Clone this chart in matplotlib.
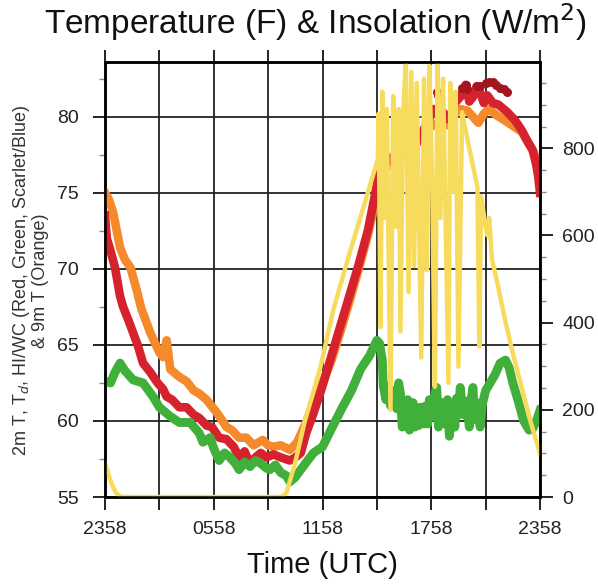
import matplotlib
matplotlib.use('Agg')
import matplotlib.pyplot as plt
from matplotlib.ticker import MultipleLocator, FixedLocator
import numpy as np

plt.rcParams['font.family'] = ['Liberation Sans', 'DejaVu Sans']

# time axis: hours after 2358 UTC
tick_hours = [0, 3, 6, 9, 12, 15, 18, 21, 24]
tick_labels = ['2358', '', '0558', '', '1158', '', '1758', '', '2358']

# 2m temperature (red)
t2m_hours = [0, 0.1, 0.3, 0.55, 0.83, 1.0, 1.3, 1.55, 1.8, 2.1, 2.5, 2.9, 3.2, 3.4,
             3.7, 4.1, 4.5, 4.9, 5.2, 5.6, 5.9, 6.3, 6.7, 7.1, 7.4, 7.7, 8.0, 8.3,
             8.6, 8.9, 9.3, 9.7, 10.2, 10.5, 10.8, 11.1, 11.5, 12.0, 12.5, 13.0,
             13.5, 14.0, 14.5, 15.0, 15.2, 15.55, 15.9, 16.3, 16.8, 17.2, 17.5,
             17.8, 18.1, 18.5, 19.0, 19.3, 19.6, 19.9, 20.1, 20.3, 20.5, 20.7,
             20.9, 21.1, 21.4, 21.7, 22.0, 22.2, 22.6, 23.0, 23.3, 23.6, 23.8,
             23.9, 24.0]
t2m = [73.5, 72.0, 71.2, 70.1, 68.2, 67.5, 66.6, 65.8, 65.0, 63.8, 63.2, 62.5, 62.1,
       61.6, 61.4, 60.9, 60.9, 60.4, 60.2, 59.7, 59.6, 58.9, 58.8, 58.3, 57.6, 58.0,
       57.2, 57.6, 57.9, 57.6, 57.8, 57.6, 57.4, 57.6, 57.9, 59.2, 60.5, 62.3, 64.3,
       66.3, 68.3, 70.3, 72.5, 75.5, 77.0, 77.4, 77.0, 78.3, 79.3, 78.3, 79.0, 79.6,
       80.5, 80.5, 79.8, 80.9, 81.3, 82.1, 81.0, 81.3, 82.0, 81.6, 80.9, 81.4, 80.9,
       80.8, 80.5, 80.3, 79.8, 79.1, 78.4, 77.8, 76.8, 76.1, 75.0]

# 9m temperature (orange)
t9m_hours = [0, 0.2, 0.45, 0.83, 1.1, 1.4, 1.75, 2.0, 2.5, 3.0, 3.2, 3.4, 3.6, 4.1,
             4.5, 4.9, 5.2, 5.6, 6.2, 6.7, 7.0, 7.4, 7.8, 8.2, 8.7, 9.0, 9.3, 9.7,
             10.2, 10.6, 11.1, 11.5, 12.0, 12.5, 13.0, 13.5, 14.0, 14.5, 15.0, 15.3,
             15.6, 16.0, 16.3, 16.6, 17.0, 17.4, 17.8, 18.2, 18.6, 19.0, 19.3, 19.6,
             20.0, 20.3, 20.6, 20.9, 21.2, 21.6, 22.0, 22.5, 23.0, 23.5, 24.0]
t9m = [75.0, 74.6, 73.7, 71.4, 70.6, 70.1, 68.6, 67.4, 65.8, 64.5, 64.2, 65.3, 63.4,
       62.9, 62.6, 62.0, 61.8, 61.4, 60.5, 59.6, 59.4, 58.9, 58.9, 58.4, 58.75, 58.4,
       58.3, 58.4, 58.1, 58.6, 59.9, 61.2, 62.5, 64.0, 65.9, 67.9, 70.0, 72.2, 74.8,
       76.3, 76.8, 77.0, 77.3, 77.6, 77.8, 78.6, 79.2, 79.5, 79.8, 79.4, 80.2, 80.5,
       80.4, 80.0, 79.6, 80.2, 80.5, 80.1, 79.8, 79.4, 79.0, 78.0, 76.8]

# 2m dew point (green)
td_hours = [0, 0.3, 0.55, 0.83, 1.1, 1.55, 2.1, 2.65, 3.0, 3.3, 3.6, 4.1, 4.7, 5.2,
            5.4, 5.8, 6.0, 6.3, 6.6, 6.9, 7.2, 7.4, 7.7, 8.0, 8.3, 8.6, 8.9, 9.1,
            9.4, 9.7, 10.0, 10.2, 10.5, 10.8, 11.5, 12.0, 12.5, 13.1, 13.6, 14.1,
            14.6, 15.0, 15.15, 15.3, 15.35, 15.5, 15.6, 15.75, 15.9, 16.0, 16.1,
            16.2, 16.3, 16.4, 16.5, 16.6, 16.7, 16.8, 16.9, 17.0, 17.1, 17.2, 17.3,
            17.4, 17.5, 17.6, 17.7, 17.8, 17.9, 18.0, 18.1, 18.2, 18.3, 18.4, 18.5,
            18.6, 18.75, 18.9, 19.0, 19.1, 19.2, 19.3, 19.4, 19.5, 19.6, 19.7, 19.8,
            19.95, 20.1, 20.2, 20.3, 20.4, 20.5, 20.6, 20.7, 20.8, 20.9, 21.0, 21.2,
            21.5, 21.8, 22.1, 22.3, 22.5, 22.8, 23.1, 23.4, 23.6, 23.8, 24.0]
td = [62.6, 62.5, 63.2, 63.8, 63.3, 62.7, 62.5, 61.6, 60.9, 60.6, 60.3, 59.9, 59.9,
      59.2, 58.6, 58.9, 58.2, 57.4, 57.9, 57.6, 57.2, 56.8, 57.3, 57.0, 57.4, 57.2,
      56.9, 56.8, 57.1, 56.6, 56.4, 56.0, 56.3, 56.8, 57.9, 58.3, 59.5, 60.9, 62.0,
      63.4, 64.3, 65.3, 65.1, 64.0, 62.3, 61.4, 62.3, 61.0, 62.0, 61.3, 60.8,
      62.5, 61.8, 59.6, 61.2, 60.2, 61.4, 59.4, 60.6, 61.2, 59.6, 60.5, 59.7,
      60.9, 60.3, 59.8, 61.0, 59.8, 61.4, 60.6, 60.3, 61.8, 62.2, 59.6, 61.0,
      61.2, 59.8, 61.4, 59.0, 60.2, 60.7, 59.6, 61.5, 60.4, 62.2, 61.0, 60.4,
      61.3, 59.6, 61.4, 62.2, 60.1, 61.2, 60.4, 59.6, 61.0, 61.5, 62.0, 62.4,
      63.0, 63.8, 64.0, 63.5, 62.5, 61.3, 60.0, 59.4, 59.5, 60.0, 60.7]

# heat index (scarlet dots, only when hot)
hi_hours = [18.3, 18.4, 19.7, 19.9, 20.0, 20.5, 20.7, 21.0, 21.2, 21.4, 21.6, 21.8,
            22.0, 22.2]
hi = [81.6, 81.4, 81.9, 82.1, 81.8, 82.0, 82.0, 82.2, 82.3, 82.3, 82.1, 81.9, 81.8,
      81.6]

# insolation, W/m2 (yellow, right axis)
sw_hours = [0, 0.15, 0.3, 0.45, 0.6, 0.8, 1.0, 9.7, 10.0, 10.5, 11.0, 11.9, 12.6,
            13.5, 14.3, 15.05, 15.1, 15.2, 15.3, 15.45, 15.55, 15.75, 15.9, 16.05,
            16.2, 16.3, 16.45, 16.6, 16.75, 16.9, 17.05, 17.2, 17.45, 17.6, 17.75,
            17.9, 18.05, 18.2, 18.35, 18.5, 18.65, 18.95, 19.05, 19.2, 19.35, 19.5,
            19.7, 20.0, 20.3, 20.55, 20.65, 20.75, 21.0, 21.1, 21.2, 21.35, 21.6,
            22.07, 22.5, 23.0, 23.5, 24.0]
sw = [78, 58, 38, 22, 10, 2, 0, 0, 8, 80, 170, 300, 430, 560, 670, 775, 880, 390,
      930, 640, 890, 200, 920, 620, 890, 380, 880, 1000, 470, 975, 530, 950, 320,
      960, 520, 990, 720, 253, 998, 640, 960, 262, 950, 700, 930, 299, 883, 820,
      760, 710, 345, 690, 620, 600, 640, 545, 500, 407, 330, 250, 170, 100]

fig = plt.figure(figsize=(5.98, 5.87), dpi=100)
ax = fig.add_axes([0.1756, 0.1533, 0.7274, 0.7411])

ax.plot(t9m_hours, t9m, color='#F58A2C', lw=6.2, solid_joinstyle='round', zorder=3)
ax.plot(t2m_hours, t2m, color='#D6222C', lw=6.2, solid_joinstyle='round', zorder=4)
ax.plot(td_hours, td, color='#41B03B', lw=6.4, solid_joinstyle='round', zorder=5)
ax.plot(hi_hours, hi, 'o', color='#A3161F', ms=6.5, mew=0, zorder=6)

ax.set_xlim(0, 24)
ax.set_ylim(55, 83.6)
ax.xaxis.set_major_locator(FixedLocator(tick_hours))
ax.set_xticklabels(tick_labels)
ax.yaxis.set_major_locator(MultipleLocator(5))
ax.yaxis.set_minor_locator(MultipleLocator(2.5))
ax.grid(True, which='major', color='#222222', lw=1.3, zorder=1)
ax.set_axisbelow(True)
ax.tick_params(axis='x', which='major', direction='out', length=9, width=1.4,
               pad=8, labelsize=14, top=True, colors='#222222', labelcolor='#222222')
ax.tick_params(axis='y', which='major', direction='out', length=9, width=1.4,
               pad=10, labelsize=14, colors='#222222', labelcolor='#222222')
ax.tick_params(axis='y', which='minor', direction='out', length=4, width=1.0,
               colors='#888888')
for s in ax.spines.values():
    s.set_linewidth(1.8)

ax2 = ax.twinx()
ax2.plot(sw_hours, sw, color='#F7DB5C', lw=3.2, solid_joinstyle='round')
ax2.set_ylim(0, 998)
ax2.yaxis.set_major_locator(FixedLocator([0, 200, 400, 600, 800]))
ax2.yaxis.set_minor_locator(MultipleLocator(50))
ax2.tick_params(axis='y', which='major', direction='out', length=9, width=1.4,
                pad=7, labelsize=14, colors='#222222', labelcolor='#222222')
ax2.tick_params(axis='y', which='minor', direction='out', length=4, width=1.0,
                colors='#888888')
for s in ax2.spines.values():
    s.set_linewidth(1.8)

fig.text(315 / 598, 1 - 22 / 587, r'Temperature (F) & Insolation (W/m$^2$)',
         ha='center', va='center', fontsize=24, color='#111111')
fig.text(322 / 598, 1 - 565 / 587, 'Time (UTC)', ha='center', va='center',
         fontsize=21, color='#111111')
fig.text(30 / 598, 0.522,
         '2m T, T$_d$, HI/WC (Red, Green, Scarlet/Blue)\n& 9m T (Orange)',
         ha='center', va='center', rotation=90, fontsize=13, linespacing=0.95,
         color='#333333')

fig.savefig('out.png', dpi=100)
